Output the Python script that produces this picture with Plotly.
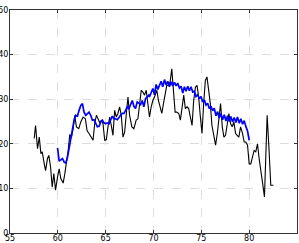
import plotly.graph_objects as go

black_x = [57.53, 57.67, 57.88, 58.06, 58.23, 58.37, 58.58, 58.72, 58.92, 59.06,
           59.24, 59.41, 59.58, 59.76, 59.97, 60.14, 60.31, 60.56, 60.73, 60.90,
           61.08, 61.25, 61.42, 61.60, 61.77, 61.94, 62.19, 62.40, 62.64, 62.88,
           63.06, 63.26, 63.51, 63.68, 63.85, 64.03, 64.20, 64.38, 64.55, 64.72,
           64.90, 65.07, 65.24, 65.42, 65.59, 65.76, 65.94, 66.11, 66.28, 66.46,
           66.63, 66.81, 66.98, 67.15, 67.33, 67.50, 67.74, 67.95, 68.19, 68.37,
           68.54, 68.72, 68.89, 69.06, 69.24,
           69.58, 69.76, 69.93, 70.17, 70.35, 70.52, 70.69, 70.87, 71.04, 71.22,
           71.39, 71.56, 71.74, 71.91, 72.08, 72.26, 72.43, 72.64, 72.81, 72.99,
           73.16, 73.33, 73.51, 73.68, 73.85, 74.03, 74.20, 74.38, 74.55, 74.72,
           74.90, 75.07, 75.24, 75.42, 75.59, 75.76, 75.94, 76.11, 76.28, 76.49,
           76.67, 76.84, 77.01, 77.19, 77.36, 77.53, 77.71, 77.88, 78.06, 78.23,
           78.40, 78.58, 78.75, 78.92, 79.10, 79.31, 79.48, 79.65, 79.83, 80.00,
           80.17, 80.35, 80.52, 80.69, 80.87, 81.04, 81.22, 81.39, 81.60, 81.74,
           81.88, 82.08, 82.26, 82.54]
black_y = [21.2, 24.1, 18.9, 21.5, 17.8, 18.2, 15.5, 14.0, 16.7, 17.4,
           14.8, 10.3, 13.3, 9.6, 12.6, 14.4, 12.2, 11.2, 13.3, 15.5,
           18.5, 22.1, 21.4, 23.4, 26.4, 23.8, 23.4, 24.9, 26.0, 25.6,
           22.9, 22.3, 21.2, 20.8, 24.5, 26.4, 25.6, 24.7, 25.3, 24.5,
           20.8, 20.9, 23.8, 26.0, 24.1, 21.9, 27.5, 26.0, 26.8, 28.3,
           26.4, 21.5, 22.6, 27.5, 30.5, 26.4, 23.8, 23.4, 25.3, 25.6,
           28.3, 32.0, 31.6, 30.9, 32.0,
           26.0, 28.3, 29.7, 30.9, 32.0, 29.7, 28.3, 26.8, 29.0, 31.6,
           33.1, 33.1, 33.9, 36.8, 32.0, 27.1, 27.1, 26.8, 25.3, 28.6,
           30.9, 27.9, 28.3, 27.9, 26.0, 24.1, 29.7, 32.7, 33.1, 30.5,
           26.0, 22.3, 29.0, 34.2, 35.0, 32.0, 29.0, 24.1, 22.3, 19.7,
           22.3, 25.3, 29.0, 23.8, 21.5, 21.9, 24.5, 26.8, 24.5, 23.8,
           24.9, 22.3, 21.9, 21.5, 23.8, 22.3, 20.4, 20.4, 19.7, 15.5,
           15.5, 17.0, 18.5, 18.2, 20.0, 16.7, 13.3, 11.4, 8.1, 17.0,
           26.4, 18.5, 10.7, 10.7]

blue_x = [59.97, 60.14, 60.31, 60.49, 60.66, 60.83, 61.01, 61.18, 61.35, 61.53,
          61.70, 61.88, 62.05, 62.22, 62.40, 62.57, 62.74, 62.92, 63.09, 63.26,
          63.44, 63.61, 63.78, 63.96, 64.13, 64.31, 64.48, 64.65, 64.83, 65.00,
          65.17, 65.35, 65.52, 65.69, 65.87, 66.04, 66.22, 66.39, 66.56, 66.74,
          66.91, 67.08, 67.26, 67.43, 67.60, 67.78, 67.95, 68.12, 68.30, 68.47,
          68.65, 68.82, 68.99, 69.17, 69.34, 69.51,
          69.58, 69.76, 69.93, 70.10, 70.28, 70.45, 70.62, 70.80, 70.97, 71.15,
          71.32, 71.49, 71.67, 71.84, 72.01, 72.19, 72.36, 72.53, 72.71, 72.88,
          73.06, 73.23, 73.40, 73.58, 73.75, 73.92, 74.10, 74.27, 74.44, 74.62,
          74.79, 74.97, 75.14, 75.31, 75.49, 75.66, 75.83, 76.01, 76.18, 76.35,
          76.53, 76.70, 76.87, 77.05, 77.22, 77.40, 77.57, 77.74, 77.92, 78.09,
          78.26, 78.44, 78.61, 78.78, 78.96, 79.13, 79.31, 79.48, 79.65, 79.83,
          80.00]
blue_y = [19.1, 16.1, 16.4, 16.7, 15.9, 15.7, 17.0, 19.3, 21.5, 23.4,
          25.3, 26.4, 26.2, 27.5, 28.6, 29.0, 27.1, 26.4, 26.8, 27.1,
          26.4, 25.3, 25.4, 24.4, 23.8, 23.9, 24.9, 25.3, 24.7, 24.5,
          24.7, 24.5, 25.3, 26.2, 25.6, 25.6, 25.4, 26.0, 26.4, 26.8,
          26.8, 27.5, 28.3, 27.9, 28.6, 29.7, 28.4, 27.9, 29.4, 29.0,
          28.8, 29.7, 28.3, 30.1, 30.6, 30.9,
          30.5, 31.6, 32.4, 31.0, 33.3, 32.2, 33.3, 34.0, 32.8, 34.4,
          33.2, 34.0, 32.8, 33.9, 33.0, 33.8, 33.0, 33.6, 32.5, 32.9,
          31.4, 32.8, 31.8, 32.9, 31.9, 32.8, 31.6, 31.8, 30.6, 31.0,
          30.1, 30.6, 29.4, 29.9, 28.7, 29.1, 27.9, 28.4, 27.4, 28.0,
          26.3, 27.2, 25.8, 26.8, 25.4, 26.5, 25.1, 26.3, 25.0, 26.1,
          24.9, 25.9, 24.8, 26.0, 24.6, 25.6, 24.4, 25.2, 23.9, 22.9,
          20.8]

x_ticks = [55, 60, 65, 70, 75, 80, 85]
y_ticks = [0, 10, 20, 30, 40, 50]

fig = go.Figure()
fig.add_trace(go.Scatter(x=black_x, y=black_y, mode="lines",
                         line=dict(color="#000000", width=1.1)))
fig.add_trace(go.Scatter(x=blue_x, y=blue_y, mode="lines",
                         line=dict(color="#0000ff", width=1.7)))

axis_common = dict(
    automargin=False,
    showline=True, linecolor="#333333", linewidth=1, mirror="ticks",
    ticks="inside", ticklen=3, tickcolor="#333333", tickwidth=1,
    showgrid=True, gridcolor="#dddddd", griddash="dash", gridwidth=1,
    zeroline=False, tickfont=dict(family="DejaVu Sans", size=8, color="#000000"),
)
fig.update_xaxes(range=[55, 85], tickvals=x_ticks, ticktext=[str(v) for v in x_ticks],
                 ticklabelstandoff=-3, **axis_common)
fig.update_yaxes(range=[0, 50], tickvals=y_ticks, ticktext=[str(v) for v in y_ticks],
                 ticklabelstandoff=-1, **axis_common)
fig.update_layout(
    width=299, height=243, showlegend=False,
    margin=dict(l=10, r=2, t=10, b=10, pad=0),
    plot_bgcolor="white", paper_bgcolor="white",
)
fig.write_html("out.html", config={"displayModeBar": False},
               post_script="document.body.style.margin='0';document.body.style.padding='0';")
